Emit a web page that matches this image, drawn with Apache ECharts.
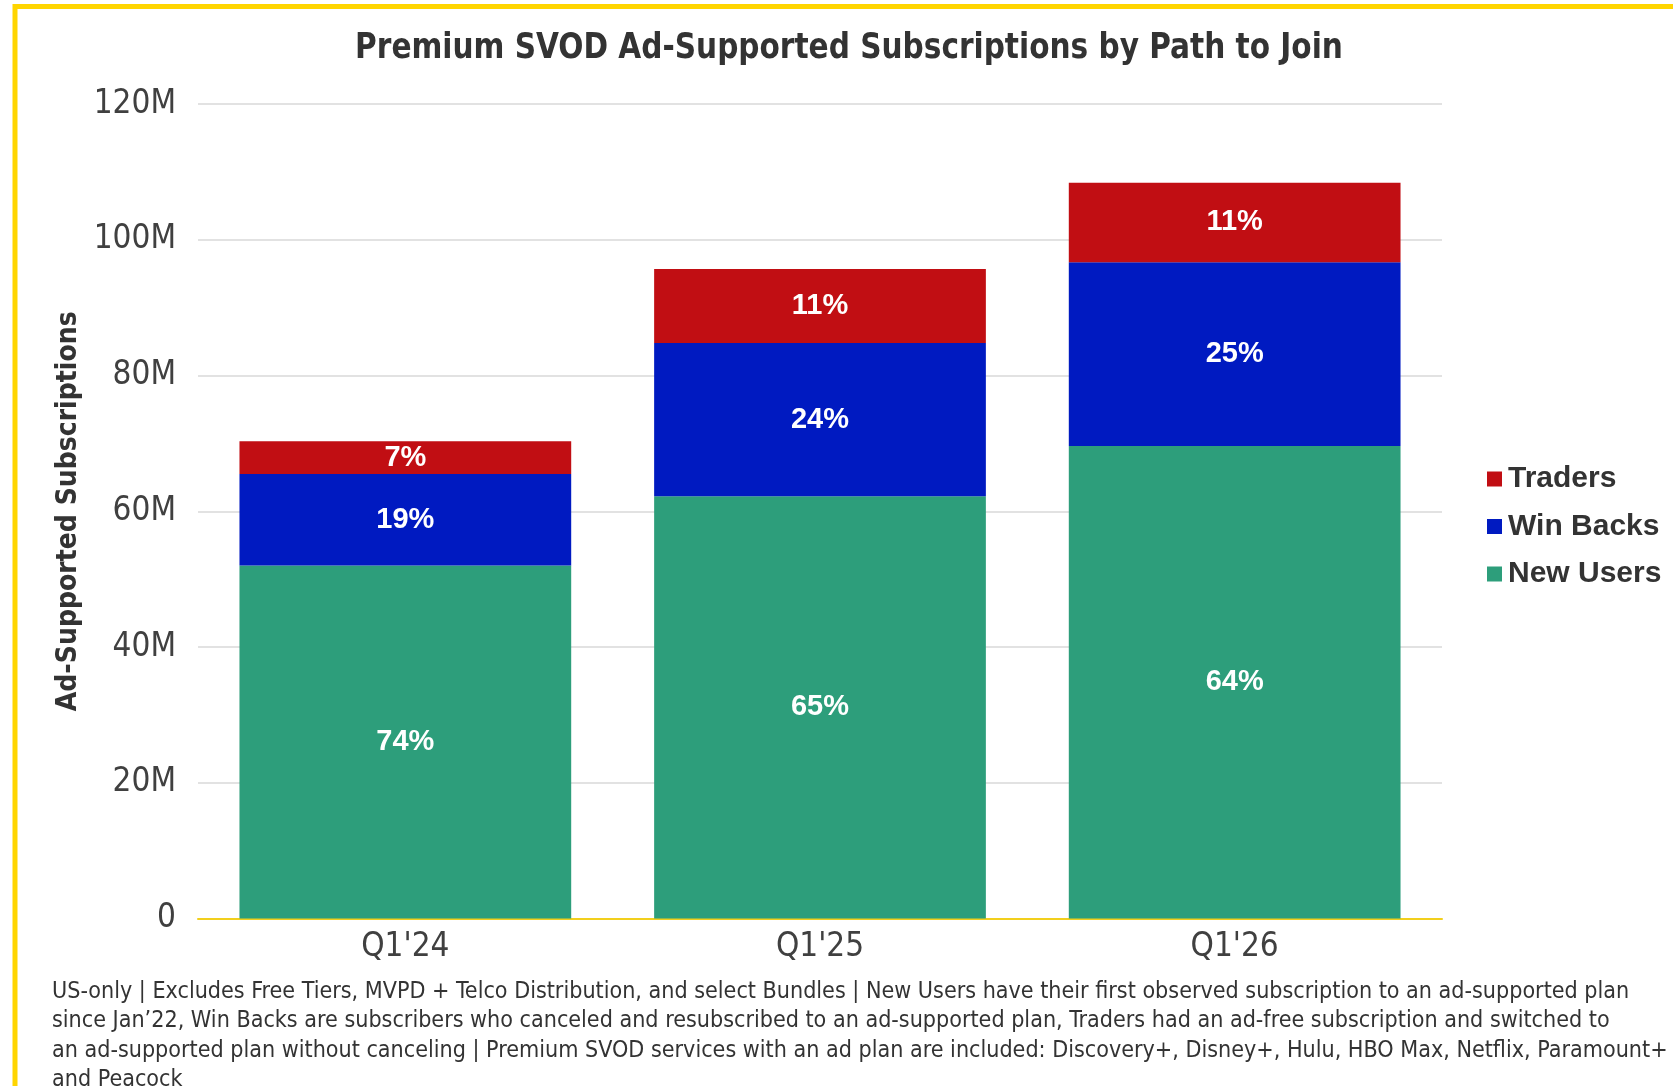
<!DOCTYPE html>
<html>
<head>
<meta charset="utf-8">
<title>Premium SVOD Ad-Supported Subscriptions by Path to Join</title>
<script src="https://cdn.jsdelivr.net/npm/echarts@6/dist/echarts.min.js"></script>
<style>
  html, body { margin: 0; padding: 0; background: #ffffff; }
  #chart { width: 1673px; height: 1086px; }
</style>
</head>
<body>
<div id="chart"></div>
<script>
// Quarters on the x axis
const categories = ["Q1'24", "Q1'25", "Q1'26"];

// Ad-supported subscriptions, in millions, by path to join
const newUsers = [52.0, 62.2, 69.6];
const winBacks = [13.5, 22.6, 27.1];
const traders  = [4.8, 10.9, 11.7];

// Y axis ticks (millions)
const yTicks = [0, 20, 40, 60, 80, 100, 120];

const titleText = 'Premium SVOD Ad-Supported Subscriptions by Path to Join';

const footnoteLines = [
  "US-only | Excludes Free Tiers, MVPD + Telco Distribution, and select Bundles | New Users have their first observed subscription to an ad-supported plan",
  "since Jan\u201922, Win Backs are subscribers who canceled and resubscribed to an ad-supported plan, Traders had an ad-free subscription and switched to",
  "an ad-supported plan without canceling | Premium SVOD services with an ad plan are included: Discovery+, Disney+, Hulu, HBO Max, Netflix, Paramount+",
  "and Peacock"
];

const COLORS = { traders: '#C10E13', winBacks: '#001AC1', newUsers: '#2D9E7B' };
const NARROW = '"Liberation Sans Narrow", "DejaVu Sans Condensed", "Liberation Sans", sans-serif';
const SANS = '"Liberation Sans", Arial, sans-serif';

const totals = categories.map((_, i) => newUsers[i] + winBacks[i] + traders[i]);

// Share of the quarter's total, shown inside each segment
function shareLabel(arr) {
  return function (p) {
    return Math.round(arr[p.dataIndex] / totals[p.dataIndex] * 100) + '%';
  };
}

function barSeries(name, data, color) {
  return {
    name: name,
    type: 'bar',
    stack: 'total',
    data: data,
    barCategoryGap: '20%',
    itemStyle: { color: color },
    label: {
      show: true,
      position: 'inside',
      formatter: shareLabel(data),
      color: '#ffffff',
      fontFamily: SANS,
      fontWeight: 'bold',
      fontSize: 29
    },
    emphasis: { disabled: true }
  };
}

const chart = echarts.init(document.getElementById('chart'), null, { renderer: 'canvas' });

chart.setOption({
  animation: false,
  backgroundColor: '#ffffff',
  grid: { left: 198, right: 231, top: 104, bottom: 167.5, containLabel: false },
  legend: {
    orient: 'vertical',
    left: 1482,
    top: 459,
    itemWidth: 15,
    itemHeight: 15,
    itemGap: 17.5,
    icon: 'rect',
    selectedMode: false,
    data: ['Traders', 'Win Backs', 'New Users'],
    textStyle: {
      fontFamily: SANS,
      fontWeight: 'bold',
      fontSize: 30,
      lineHeight: 30,
      color: '#333333',
      padding: [0, 0, 0, 1]
    }
  },
  xAxis: {
    type: 'category',
    data: categories,
    axisLine: { show: true, lineStyle: { color: '#F2CF1D', width: 2 } },
    axisTick: { show: false },
    axisLabel: {
      margin: 12,
      fontFamily: NARROW,
      fontSize: 33,
      color: '#404040'
    }
  },
  yAxis: {
    type: 'value',
    min: yTicks[0],
    max: yTicks[yTicks.length - 1],
    interval: yTicks[1] - yTicks[0],
    name: 'Ad-Supported Subscriptions',
    nameLocation: 'middle',
    nameGap: 115,
    nameRotate: 90,
    nameTextStyle: {
      fontFamily: NARROW,
      fontWeight: 'bold',
      fontSize: 28,
      color: '#333333'
    },
    axisLine: { show: false },
    axisTick: { show: false },
    splitLine: { lineStyle: { color: '#D9D9D9', width: 1.5 } },
    axisLabel: {
      margin: 22,
      fontFamily: NARROW,
      fontSize: 33,
      color: '#404040',
      padding: [0, 0, 9, 0],
      formatter: v => v === 0 ? '0' : v + 'M'
    }
  },
  series: [
    barSeries('New Users', newUsers, COLORS.newUsers),
    barSeries('Win Backs', winBacks, COLORS.winBacks),
    barSeries('Traders', traders, COLORS.traders)
  ],
  graphic: [
    {
      type: 'rect',
      silent: true,
      shape: { x: 15, y: 6.5, width: 1800, height: 1300 },
      style: { fill: 'none', stroke: '#FFD500', lineWidth: 5 }
    },
    {
      // chart title, slightly condensed horizontally
      type: 'text',
      silent: true,
      x: 849,
      y: 49,
      scaleX: 0.94,
      style: {
        text: titleText,
        fontFamily: NARROW,
        fontWeight: 'bold',
        fontSize: 35,
        fill: '#333333',
        align: 'center',
        verticalAlign: 'middle'
      }
    },
    {
      type: 'text',
      silent: true,
      left: 52,
      top: 977,
      style: {
        text: footnoteLines.join('\n'),
        fontFamily: NARROW,
        fontSize: 23.1,
        lineHeight: 29.5,
        fill: '#333333'
      }
    }
  ]
});
</script>
</body>
</html>
